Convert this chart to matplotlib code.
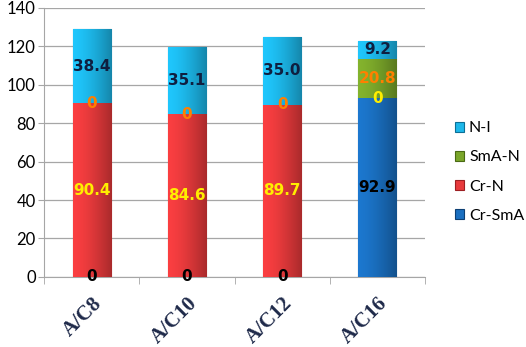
import numpy as np
import matplotlib.pyplot as plt
from matplotlib.colors import to_rgb

categories = ['A/C8', 'A/C10', 'A/C12', 'A/C16']
cr_sma = [0, 0, 0, 92.9]
cr_n = [90.4, 84.6, 89.7, 0]
sma_n = [0, 0, 0, 20.8]
n_i = [38.4, 35.1, 35.0, 9.2]

series = [
    ('Cr-SmA', cr_sma, '#1a6fc0', '#0d3f73', 'black'),
    ('Cr-N', cr_n, '#e83a3c', '#9c1f22', '#ffee00'),
    ('SmA-N', sma_n, '#7aa62a', '#4a6a14', '#ff7f00'),
    ('N-I', n_i, '#1db8ea', '#0c6f96', '#0f1f40'),
]

fig = plt.figure(figsize=(5.26, 3.47), dpi=100)
ax = fig.add_axes([0.084, 0.202, 0.724, 0.775])

x = np.arange(len(categories))
bottom = np.zeros(len(categories))
handles = []
for name, vals, color, edge, tcolor in series:
    vals = np.array(vals)
    bars = ax.bar(x, vals, width=0.4, bottom=bottom, color=color,
                  edgecolor=edge, linewidth=0.8, label=name, zorder=3)
    handles.append(bars)
    # soft horizontal shading inside each bar
    base = np.array(to_rgb(color))
    t = np.linspace(0, 1, 64)
    shade = 1.08 - 0.35 * t ** 1.5
    grad = np.clip(base[None, :] * shade[:, None], 0, 1)[None, :, :]
    for patch in bars:
        if patch.get_height() <= 0:
            continue
        x0, y0 = patch.get_x(), patch.get_y()
        im = ax.imshow(grad, extent=[x0, x0 + patch.get_width(), y0,
                                     y0 + patch.get_height()],
                       aspect='auto', zorder=3.5, interpolation='bilinear')
        im.set_clip_path(patch)
    for xi, b, v in zip(x, bottom, vals):
        ax.text(xi, b + v / 2, f'{v:g}' if v == 0 else f'{v:.1f}',
                ha='center', va='center', color=tcolor,
                fontsize=11, fontweight='bold', zorder=5)
    bottom = bottom + vals

ax.set_xlim(-0.5, 3.5)
ax.set_ylim(0, 140)
ax.set_yticks(range(0, 141, 20))
ax.yaxis.grid(True, color='#a6a6a6', linewidth=0.9, zorder=0)
ax.tick_params(axis='y', length=4, color='#a6a6a6', labelsize=12, pad=2)
for lbl in ax.get_yticklabels():
    lbl.set_fontfamily('Lato')

ax.set_xticks(x)
ax.set_xticklabels(categories, rotation=45, ha='right', rotation_mode='anchor',
                   fontfamily='Liberation Serif', fontweight='bold',
                   fontsize=15, color='#1f2a4a')
ax.set_xticks(np.arange(-0.5, 4, 1), minor=True)
ax.tick_params(axis='x', which='major', length=0, pad=12)
ax.tick_params(axis='x', which='minor', length=5, color='#a6a6a6')

for s in ['top', 'right']:
    ax.spines[s].set_visible(False)
ax.spines['left'].set_color('#a6a6a6')
ax.spines['bottom'].set_color('#a6a6a6')

ax.legend(handles[::-1], [h.get_label() for h in handles[::-1]],
          loc='center left', bbox_to_anchor=(1.04, 0.39), frameon=False,
          prop={'family': 'Lato', 'size': 11.5}, handlelength=0.6,
          handleheight=0.6, handletextpad=0.3, labelspacing=0.95)

fig.savefig('out.png', dpi=100)
